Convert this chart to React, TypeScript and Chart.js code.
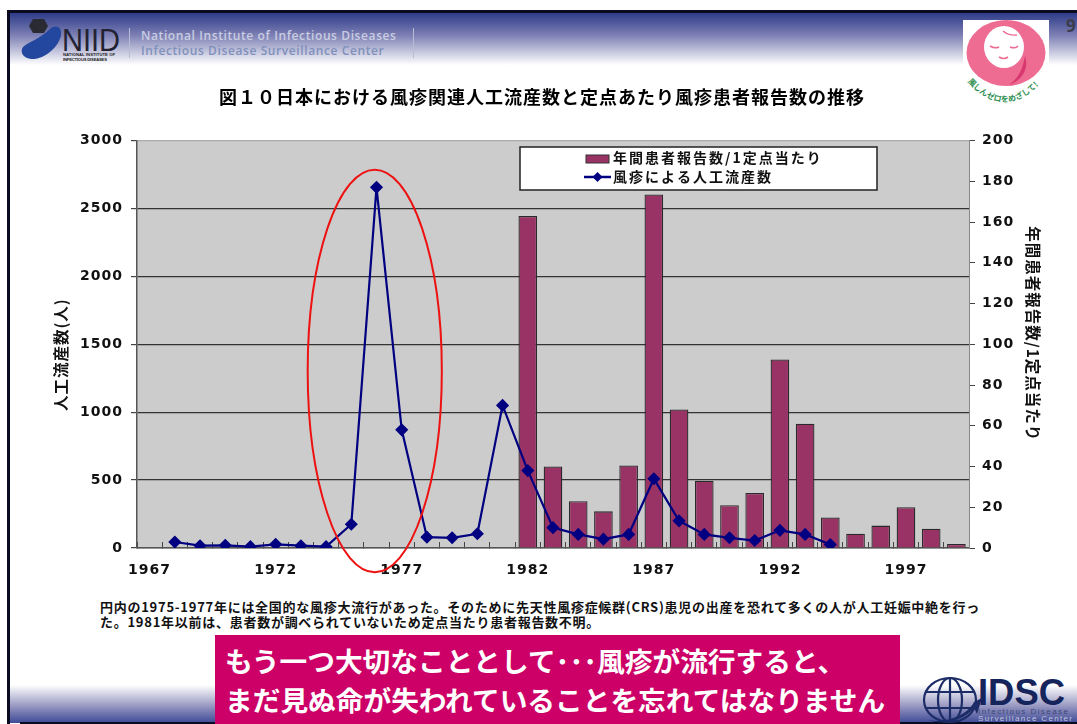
import React, { useEffect, useRef } from "react";
import { Chart, registerables } from "chart.js";

Chart.register(...registerables);

const years = ["1967","1968","1969","1970","1971","1972","1973","1974","1975","1976","1977","1978","1979","1980","1981","1982","1983","1984","1985","1986","1987","1988","1989","1990","1991","1992","1993","1994","1995","1996","1997","1998","1999"];
const abortions = [null,44,17,20,10,27,17,10,175,2655,870,80,75,105,1050,570,150,100,65,100,510,200,100,75,55,130,100,25,null,null,null,null,null];
const patientReports = [null,null,null,null,null,null,null,null,null,null,null,null,null,null,null,163,40,23,18,40.5,173.5,68,33,21,27,92.5,61,15,7,11,20,9.5,2];
const labeledYears = ["1967","1972","1977","1982","1987","1992","1997"];
const abortionsLabel = "風疹による人工流産数";
const reportsLabel = "年間患者報告数/1定点当たり";
const chartTitle = "図１０日本における風疹関連人工流産数と定点あたり風疹患者報告数の推移";
const noteLines = [
  "円内の1975-1977年には全国的な風疹大流行があった。そのために先天性風疹症候群(CRS)患児の出産を恐れて多くの人が人工妊娠中絶を行っ",
  "た。1981年以前は、患者数が調べられていないため定点当たり患者報告数不明。",
];
const bannerLines = ["もう一つ大切なこととして･･･風疹が流行すると、", "まだ見ぬ命が失われていることを忘れてはなりません"];

const CJK = '"Noto Sans CJK JP", sans-serif';
const NUM = '"DejaVu Sans", sans-serif';
const CANVAS_LEFT = 40;
const CANVAS_TOP = 81;

// Grey plot background behind the grid; also sets the wide text tracking used across the chart.
const plotBackground = {
  id: "plotBackground",
  beforeDraw(chart: any) {
    const { ctx, chartArea: a } = chart;
    ctx.save();
    ctx.fillStyle = "#cccccc";
    ctx.fillRect(a.left, a.top, a.right - a.left, a.bottom - a.top);
    ctx.restore();
    ctx.letterSpacing = "1px";
  },
};

// Red ring around the 1975-1977 epidemic, placed through the chart's scales.
const epidemicRing = {
  id: "epidemicRing",
  afterDatasetsDraw(chart: any) {
    const { ctx, scales } = chart;
    const x0 = scales.x.getPixelForValue(6.27);
    const x1 = scales.x.getPixelForValue(11.59);
    const y0 = scales.y.getPixelForValue(2785);
    const y1 = scales.y.getPixelForValue(-178);
    ctx.save();
    ctx.strokeStyle = "#ee1111";
    ctx.lineWidth = 2;
    ctx.beginPath();
    ctx.ellipse((x0 + x1) / 2, (y0 + y1) / 2, (x1 - x0) / 2, (y1 - y0) / 2, 0, 0, Math.PI * 2);
    ctx.stroke();
    ctx.restore();
  },
};

// Boxed legend that floats over the plot area, built from the datasets.
const floatingLegend = {
  id: "floatingLegend",
  afterDraw(chart: any) {
    const { ctx } = chart;
    const [bars, line] = chart.data.datasets;
    const bx = 520 - CANVAS_LEFT;
    const by = 147 - CANVAS_TOP;
    ctx.save();
    ctx.fillStyle = "#ffffff";
    ctx.fillRect(bx, by, 357, 43);
    ctx.strokeStyle = "#222222";
    ctx.lineWidth = 1.5;
    ctx.strokeRect(bx, by, 357, 43);

    ctx.fillStyle = bars.backgroundColor;
    ctx.fillRect(bx + 66, by + 8, 23, 8);
    ctx.strokeStyle = "#333333";
    ctx.lineWidth = 1;
    ctx.strokeRect(bx + 66, by + 8, 23, 8);

    ctx.strokeStyle = line.borderColor;
    ctx.lineWidth = 2.5;
    ctx.beginPath();
    ctx.moveTo(bx + 64, by + 30);
    ctx.lineTo(bx + 91, by + 30);
    ctx.stroke();
    ctx.fillStyle = line.borderColor;
    ctx.beginPath();
    ctx.moveTo(bx + 77.5, by + 25);
    ctx.lineTo(bx + 82.5, by + 30);
    ctx.lineTo(bx + 77.5, by + 35);
    ctx.lineTo(bx + 72.5, by + 30);
    ctx.closePath();
    ctx.fill();

    ctx.fillStyle = "#111111";
    ctx.font = `700 14px ${CJK}`;
    ctx.letterSpacing = "2px";
    ctx.textBaseline = "middle";
    ctx.fillText(bars.label, bx + 93, by + 11);
    ctx.fillText(line.label, bx + 93, by + 30);
    ctx.restore();
  },
};

function NiidLogo() {
  return (
    <svg width="125" height="50" style={{ position: "absolute", left: 20, top: 15 }}>
      <polygon points="9,11 13,4 24,4 28,11 24,18 13,18" fill="#2a2a33" />
      <path d="M30 14 C36 9 42 12 41 20 C39 32 24 45 11 44 C2 43 0 36 3 32 C8 27 20 24 30 14 Z" fill="#23479f" />
      <text x="42" y="36" fontFamily='"Liberation Sans Narrow","Liberation Sans",sans-serif' fontSize="31" fill="#222233" textLength="58" lengthAdjust="spacingAndGlyphs">NIID</text>
      <text x="43" y="41" fontFamily='"Liberation Sans",sans-serif' fontWeight="700" fontSize="4.2" fill="#222" textLength="52">NATIONAL INSTITUTE OF</text>
      <text x="43" y="46" fontFamily='"Liberation Sans",sans-serif' fontWeight="700" fontSize="4.2" fill="#222" textLength="44">INFECTIOUS DISEASES</text>
    </svg>
  );
}

function BabyBadge() {
  return (
    <svg width="86" height="90" style={{ position: "absolute", left: 963, top: 20 }}>
      <defs>
        <path id="badgeArc" d="M3 60 Q 43 106 84 56" />
      </defs>
      <rect width="86" height="78" fill="#fff" />
      <ellipse cx="43" cy="33" rx="39.5" ry="33" fill="#ee6b92" />
      <path d="M62 36 C66 48 60 60 46 65 C58 56 60 46 62 36 Z" fill="#d8386f" />
      <ellipse cx="41" cy="27" rx="20" ry="21" fill="#fff" />
      <path d="M27 26 q5 3 9 1 M47 27 q5 2 8 -1 M36 37 q5 3 9 0" stroke="#ee6b92" strokeWidth="1.6" fill="none" />
      <path d="M40 11 q6 5 14 4" stroke="#ee6b92" strokeWidth="1.4" fill="none" />
      <text fontFamily={CJK} fontWeight="700" fontSize="8" fill="#2f8f52">
        <textPath href="#badgeArc" startOffset="2%">風しんゼロをめざして!</textPath>
      </text>
    </svg>
  );
}

function IdscLogo() {
  return (
    <svg width="157" height="54" style={{ position: "absolute", left: 920, top: 670 }}>
      <g fill="none" stroke="#1c2c66" strokeWidth="2.2">
        <ellipse cx="30" cy="30" rx="26" ry="22" />
        <ellipse cx="30" cy="30" rx="12" ry="22" />
        <path d="M30 8 V52 M6 22 H54 M6 38 H54" />
      </g>
      <path d="M8 50 C28 54 48 44 54 32 L62 28 L57 44 L54 38 C44 50 24 56 8 50 Z" fill="#1c2c66" />
      <text x="58" y="35" fontFamily='"Liberation Sans",sans-serif' fontWeight="700" fontSize="36" fill="#16245c" textLength="87" lengthAdjust="spacingAndGlyphs">IDSC</text>
      <text x="58" y="44" fontFamily='"Liberation Sans",sans-serif' fontSize="8" fill="#3c4878" textLength="90">Infectious Disease</text>
      <text x="58" y="51" fontFamily='"Liberation Sans",sans-serif' fontSize="8" fill="#c0c4dc" textLength="94">Surveillance Center</text>
    </svg>
  );
}

const plainTick = (v: any) => String(v);

export default function App() {
  const ref = useRef<HTMLCanvasElement>(null);

  useEffect(() => {
    const chart = new Chart(ref.current as HTMLCanvasElement, {
      data: {
        labels: years,
        datasets: [
          {
            type: "bar",
            label: reportsLabel,
            data: patientReports,
            yAxisID: "y2",
            backgroundColor: "#993366",
            borderColor: "#2a2a2a",
            borderWidth: 1.3,
            barPercentage: 0.74,
            categoryPercentage: 1,
            order: 2,
          },
          {
            type: "line",
            label: abortionsLabel,
            data: abortions,
            yAxisID: "y",
            borderColor: "#000080",
            backgroundColor: "#000080",
            borderWidth: 2.2,
            tension: 0,
            pointStyle: "rectRot",
            pointRadius: 5,
            pointBackgroundColor: "#000080",
            pointBorderColor: "#000080",
            order: 1,
          },
        ],
      } as any,
      options: {
        animation: false,
        responsive: false,
        maintainAspectRatio: false,
        layout: { padding: 0 },
        plugins: {
          legend: { display: false },
          tooltip: { enabled: false },
          title: {
            display: true,
            text: chartTitle,
            color: "#000000",
            font: { family: CJK, size: 18, weight: 700 },
            padding: { top: 5, bottom: 32.9 },
          },
        },
        scales: {
          x: {
            type: "category",
            offset: true,
            afterFit: (s: any) => { s.height = 43; },
            border: { color: "#555555", width: 1.5 },
            grid: { offset: true, drawOnChartArea: false, tickLength: -6, tickColor: "#444444", tickWidth: 1 },
            ticks: {
              autoSkip: false,
              maxRotation: 0,
              padding: 20,
              color: "#111111",
              font: { family: NUM, size: 14, weight: 700 },
              callback(this: any, v: any) {
                const label = this.getLabelForValue(v);
                return labeledYears.includes(label) ? label : "";
              },
            },
          },
          y: {
            position: "left",
            min: 0,
            max: 3000,
            afterFit: (s: any) => { s.width = 97; },
            border: { color: "#555555", width: 1.5 },
            grid: {
              color: (c: any) => (c.tick && c.tick.value === 3000 ? "#aaaaaa" : c.tick && c.tick.value === 0 ? "#555555" : "#333333"),
              lineWidth: 1.2,
              tickLength: 6,
              tickColor: "#444444",
            },
            ticks: { stepSize: 500, padding: 8, color: "#111111", callback: plainTick, font: { family: NUM, size: 14, weight: 700 } },
            title: {
              display: true,
              text: "人工流産数(人)\u3000\u00a0",
              color: "#111111",
              font: { family: CJK, size: 15.5, weight: 700 },
              padding: { top: 11.7, bottom: 0 },
            },
          },
          y2: {
            position: "right",
            min: 0,
            max: 200,
            afterFit: (s: any) => { s.width = 75; },
            border: { color: "#888888", width: 1 },
            grid: { drawOnChartArea: false, tickLength: 6, tickColor: "#444444" },
            ticks: { stepSize: 20, padding: 7, color: "#111111", font: { family: NUM, size: 14, weight: 700 } },
            title: {
              display: true,
              text: reportsLabel + "\u3000\u00a0",
              color: "#111111",
              font: { family: CJK, size: 15.5, weight: 700 },
              padding: { top: 1.5, bottom: 0 },
            },
          },
        },
      } as any,
      plugins: [plotBackground, epidemicRing, floatingLegend] as any,
    });
    return () => chart.destroy();
  }, []);

  return (
    <div style={{ position: "fixed", left: 0, top: 0, width: 1077, height: 724, background: "#fff", overflow: "hidden" }}>
      {/* slide frame and header / footer bands */}
      <div style={{ position: "absolute", left: 8, top: 11, right: 0, height: 54, background: "linear-gradient(#273585, #7d80b4 45%, #ffffff)" }} />
      <div style={{ position: "absolute", left: 8, top: 685, right: 0, height: 38, background: "linear-gradient(#ffffff, #8f8fbd 60%, #3d4a96)" }} />
      <div style={{ position: "absolute", left: 8, top: 10, right: 0, height: 2.5, background: "#0a0a20" }} />
      <div style={{ position: "absolute", left: 7, top: 10, width: 3, bottom: 0, background: "#0a0a20" }} />
      <div style={{ position: "absolute", left: 20, top: 722, right: 0, height: 2, background: "#0a0a20" }} />

      <NiidLogo />
      <div style={{ position: "absolute", left: 129, top: 28, width: 1, height: 30, background: "#b9bcd2" }} />
      <div style={{ position: "absolute", left: 413, top: 28, width: 1, height: 30, background: "#b9bcd2" }} />
      <div style={{ position: "absolute", left: 141, top: 28, font: '600 12px/15px "Open Sans", sans-serif', letterSpacing: 0.6, whiteSpace: "nowrap" }}>
        <div style={{ color: "#c9cde2" }}>National Institute of Infectious Diseases</div>
        <div style={{ color: "#7f90bb" }}>Infectious Disease Surveillance Center</div>
      </div>
      <BabyBadge />
      <div style={{ position: "absolute", left: 1066, top: 15, font: '700 17px/22px "Open Sans", sans-serif', color: "#3c3c4c" }}>9</div>

      <canvas ref={ref} width={1004} height={510} style={{ position: "absolute", left: CANVAS_LEFT, top: CANVAS_TOP, width: 1004, height: 510 }} />

      <div style={{ position: "absolute", left: 100, top: 599, font: `700 13px/15px ${CJK}`, letterSpacing: 0.73, color: "#111", whiteSpace: "nowrap" }}>
        {noteLines.map((l) => <div key={l}>{l}</div>)}
      </div>

      <div style={{ position: "absolute", left: 215, top: 635, width: 685, height: 89, background: "#cc0066", color: "#fff", font: `700 27.7px/39px ${CJK}`, whiteSpace: "nowrap", boxSizing: "border-box", padding: "6px 0 0 10px" }}>
        {bannerLines.map((l) => <div key={l}>{l}</div>)}
      </div>
      <IdscLogo />
    </div>
  );
}
